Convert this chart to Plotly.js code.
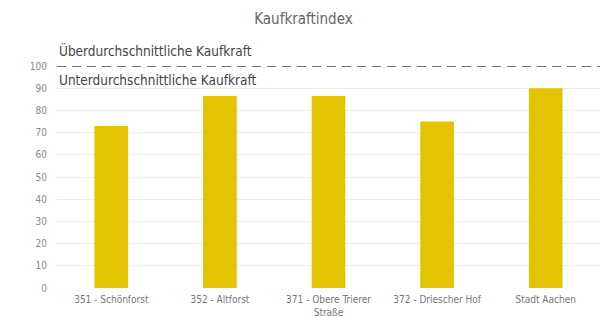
<!DOCTYPE html>
<html><head><meta charset="utf-8">
<script src="https://cdn.plot.ly/plotly-3.0.1.min.js"></script>
<style>html,body{margin:0;padding:0;background:#fff}#c{width:607px;height:317px}</style>
</head><body><div id="c"></div>
<script>
const categories = ["351 - Schönforst", "352 - Altforst", "371 - Obere Trierer<br>Straße", "372 - Driescher Hof", "Stadt Aachen"];
const values = [73, 86.5, 86.5, 75, 90];
const yTicks = [0, 10, 20, 30, 40, 50, 60, 70, 80, 90, 100];
const refValue = 100;
const labelAbove = "Überdurchschnittliche Kaufkraft";
const labelBelow = "Unterdurchschnittliche Kaufkraft";
const chartTitle = "Kaufkraftindex";

const font = "'Liberation Sans Narrow', 'DejaVu Sans Condensed', 'Open Sans', sans-serif";
Plotly.newPlot('c', [{
  type: 'bar', x: categories, y: values,
  marker: {color: '#E2C400'}, width: 0.31, hoverinfo: 'none'
}], {
  width: 607, height: 317,
  margin: {l: 57, r: 7, t: 66, b: 29},
  paper_bgcolor: '#fff', plot_bgcolor: '#fff',
  title: {text: chartTitle, x: 0.5, xanchor: 'center', y: 0.94, yanchor: 'middle',
          font: {family: font, size: 15, color: '#666'}},
  font: {family: font},
  xaxis: {tickfont: {family: font, size: 10, color: '#777'}, showgrid: false, zeroline: false,
          showline: false, ticks: 'outside', ticklen: 2, tickcolor: 'rgba(0,0,0,0)', automargin: false},
  yaxis: {range: [0, 100], tickvals: yTicks, tickfont: {family: font, size: 10, color: '#888'},
          gridcolor: '#ececec', zeroline: false, showline: false, ticks: 'outside', ticklen: 7,
          tickcolor: 'rgba(0,0,0,0)', automargin: false},
  shapes: [{type: 'line', xref: 'paper', x0: 0, x1: 1, yref: 'y', y0: refValue, y1: refValue,
            line: {color: '#444', width: 1.3, dash: '9px,6px'}}],
  annotations: [
    {text: labelAbove, xref: 'paper', x: 0, xanchor: 'left', yref: 'y', y: refValue, yanchor: 'bottom', yshift: 5,
     showarrow: false, font: {family: font, size: 13.5, color: '#444'}},
    {text: labelBelow, xref: 'paper', x: 0, xanchor: 'left', yref: 'y', y: refValue, yanchor: 'top', yshift: -4,
     showarrow: false, font: {family: font, size: 13.5, color: '#444'}}
  ],
  showlegend: false
}, {staticPlot: true});
</script></body></html>
